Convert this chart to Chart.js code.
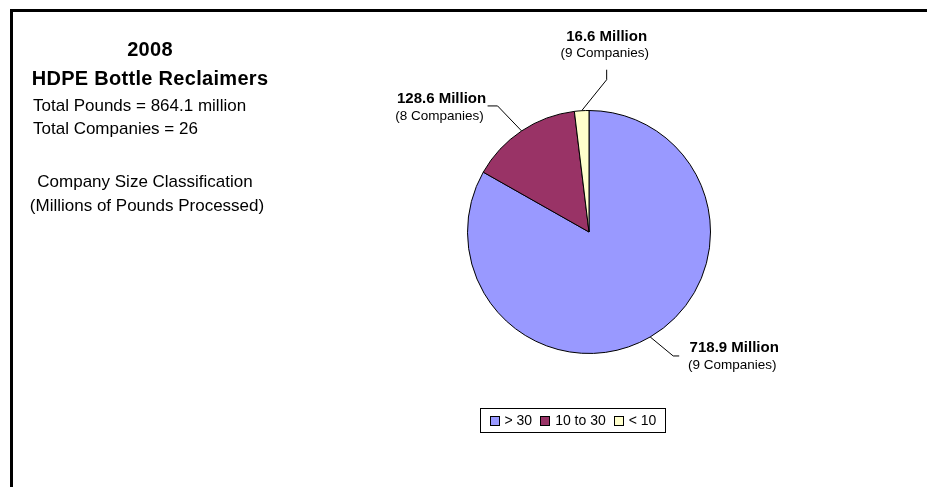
<!DOCTYPE html>
<html>
<head>
<meta charset="utf-8">
<script src="https://cdn.jsdelivr.net/npm/chart.js@4.4.1/dist/chart.umd.min.js"></script>
<style>
  html, body { margin: 0; padding: 0; background: #fff; }
  #wrap { position: relative; width: 927px; height: 487px; overflow: hidden; }
  #frame { position: absolute; left: 10px; top: 9px; right: -20px; bottom: -20px;
           border-top: 3px solid #000; border-left: 3px solid #000; }
  #myChart { position: absolute; left: 0; top: 0; }
</style>
</head>
<body>
<div id="wrap">
  <div id="frame"></div>
  <canvas id="myChart" width="927" height="487"></canvas>
</div>
<script>
// company size classes (millions of pounds processed)
const categories = ['> 30', '10 to 30', '< 10'];
const pounds = [718.9, 128.6, 16.6];
const companies = [9, 8, 9];
const sliceColors = ['#9999FF', '#993366', '#FFFFCC'];

const titleLines = ['2008', 'HDPE Bottle Reclaimers'];
const infoLines = ['Total Pounds = 864.1 million', 'Total Companies = 26'];
const classLines = ['Company Size Classification', '(Millions of Pounds Processed)'];

const FONT = '"Liberation Sans", Arial, sans-serif';

// left hand text block
const sideText = {
  id: 'sideText',
  afterDraw(chart) {
    const ctx = chart.ctx;
    ctx.save();
    ctx.fillStyle = '#000';
    ctx.textBaseline = 'middle';
    ctx.font = 'bold 20px ' + FONT;
    ctx.letterSpacing = '0.3px';
    ctx.textAlign = 'center';
    ctx.fillText(titleLines[0], 150, 50);
    ctx.fillText(titleLines[1], 150, 79);
    ctx.font = '17px ' + FONT;
    ctx.letterSpacing = '0px';
    ctx.textAlign = 'left';
    ctx.fillText(infoLines[0], 33, 106);
    ctx.fillText(infoLines[1], 33, 129);
    ctx.textAlign = 'center';
    ctx.fillText(classLines[0], 145, 182);
    ctx.fillText(classLines[1], 147, 206);
    ctx.restore();
  }
};

// data labels with leader lines, anchored on each arc's edge
const leaderLabels = {
  id: 'leaderLabels',
  afterDatasetsDraw(chart, args, opts) {
    const ctx = chart.ctx;
    const arcs = chart.getDatasetMeta(0).data;
    ctx.save();
    arcs.forEach((arc, i) => {
      const p = arc.getProps(['x', 'y', 'startAngle', 'endAngle', 'outerRadius'], true);
      const mid = (p.startAngle + p.endAngle) / 2;
      const ex = p.x + Math.cos(mid) * p.outerRadius;
      const ey = p.y + Math.sin(mid) * p.outerRadius;
      const L = opts.leaders[i];
      const bx = ex + L.elbow[0], by = ey + L.elbow[1];
      const tx = bx + L.tail[0], ty = by + L.tail[1];
      ctx.strokeStyle = '#000';
      ctx.lineWidth = 1;
      ctx.beginPath();
      ctx.moveTo(ex, ey);
      ctx.lineTo(bx, by);
      ctx.lineTo(tx, ty);
      ctx.stroke();

      const cx = tx + L.text[0], cy = ty + L.text[1];
      ctx.fillStyle = '#000';
      ctx.textAlign = 'center';
      ctx.textBaseline = 'middle';
      ctx.font = 'bold 15px ' + FONT;
      ctx.fillText(pounds[i].toFixed(1) + ' Million', cx, cy);
      ctx.font = '13.5px ' + FONT;
      ctx.fillText('(' + companies[i] + ' Companies)', cx - 2, cy + 17);
    });
    ctx.restore();
  }
};

// boxed legend under the pie
const boxLegend = {
  id: 'boxLegend',
  afterDraw(chart, args, opts) {
    const ctx = chart.ctx;
    ctx.save();
    ctx.font = '14px ' + FONT;
    const sq = 9, gap = 6, itemGap = 8, pad = 9;
    const widths = categories.map(c => ctx.measureText(c).width);
    let total = pad * 2;
    widths.forEach((w, i) => { total += sq + gap + w + (i < widths.length - 1 ? itemGap : 0); });
    total = Math.round(total);
    const h = 24;
    const left = Math.round(opts.centerX - total / 2) + 0.5;
    const top = Math.round(opts.centerY - h / 2) + 0.5;
    ctx.fillStyle = '#fff';
    ctx.fillRect(left, top, total, h);
    ctx.strokeStyle = '#000';
    ctx.lineWidth = 1;
    ctx.strokeRect(left, top, total, h);
    let x = left + pad;
    const cy = top + h / 2;
    categories.forEach((c, i) => {
      const sx = Math.round(x) + 0.5, sy = Math.round(cy - sq / 2) + 0.5;
      ctx.fillStyle = sliceColors[i];
      ctx.fillRect(sx, sy, sq, sq);
      ctx.strokeRect(sx, sy, sq, sq);
      x += sq + gap;
      ctx.fillStyle = '#000';
      ctx.textAlign = 'left';
      ctx.textBaseline = 'middle';
      ctx.fillText(c, x, cy + 1);
      x += widths[i] + itemGap;
    });
    ctx.restore();
  }
};

new Chart(document.getElementById('myChart').getContext('2d'), {
  type: 'pie',
  data: {
    labels: categories,
    datasets: [{
      data: pounds,
      backgroundColor: sliceColors,
      borderColor: '#000',
      borderWidth: 1
    }]
  },
  options: {
    responsive: false,
    animation: false,
    layout: { padding: { top: 110, bottom: 133, left: 467, right: 216 } },
    plugins: {
      legend: { display: false },
      tooltip: { enabled: false },
      leaderLabels: {
        leaders: [
          { elbow: [23, 19], tail: [6, 0], text: [55, -8] },
          { elbow: [-24, -25], tail: [-10, 0], text: [-46, -7] },
          { elbow: [25, -31], tail: [0, -10], text: [0, -33] }
        ]
      },
      boxLegend: { centerX: 572, centerY: 420 }
    }
  },
  plugins: [leaderLabels, sideText, boxLegend]
});
</script>
</body>
</html>
